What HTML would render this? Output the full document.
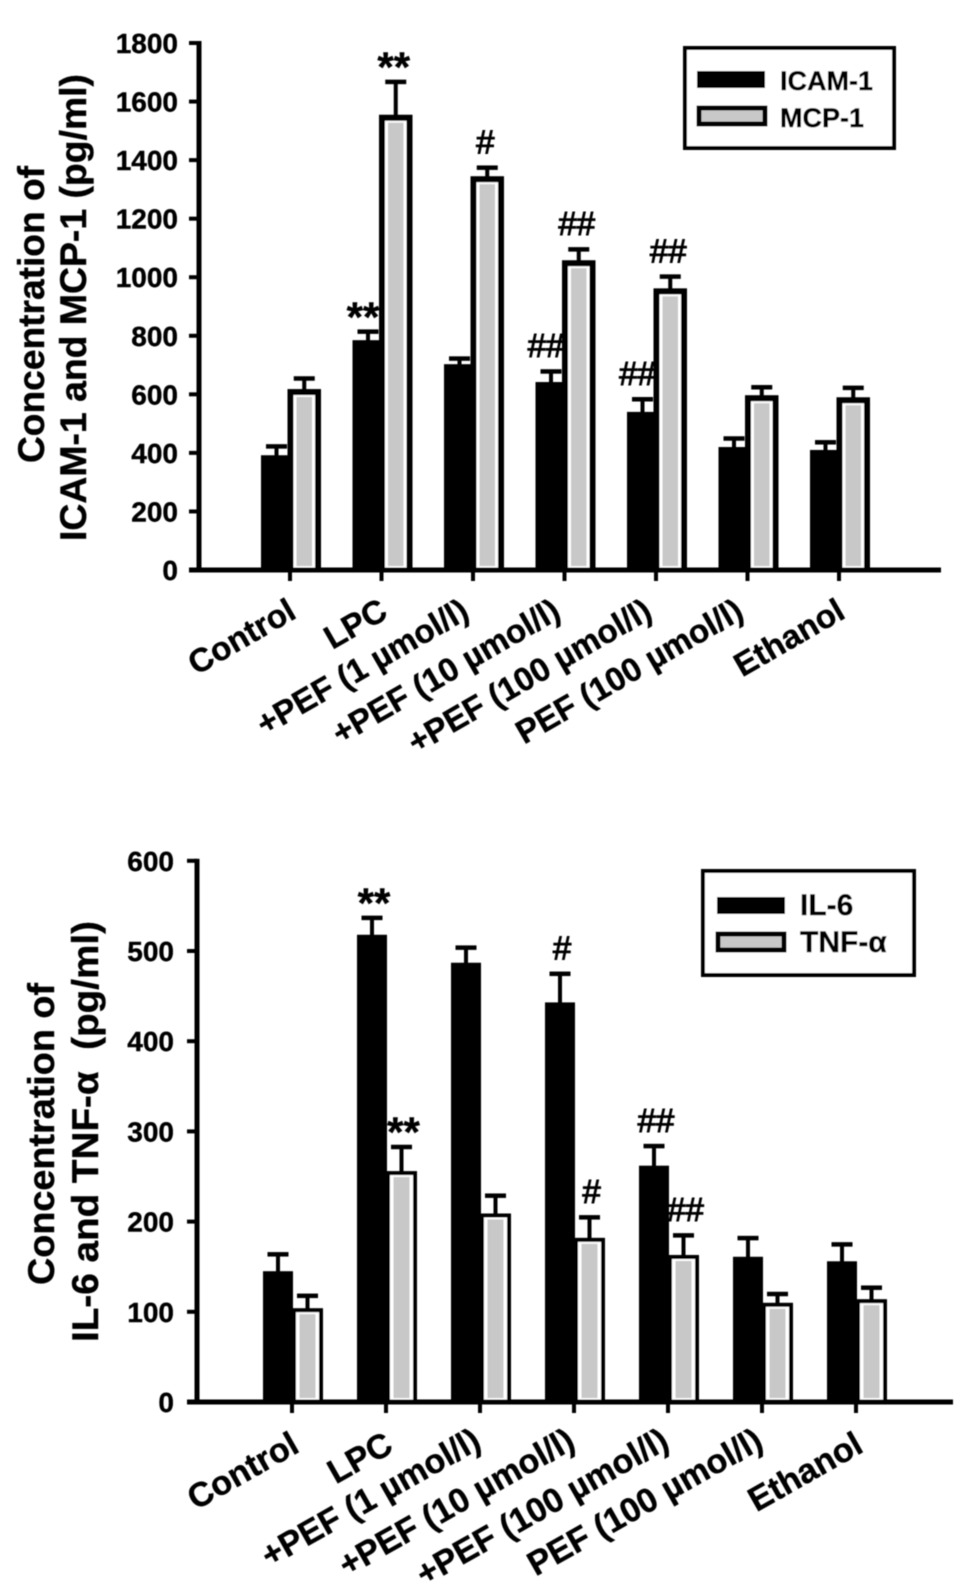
<!DOCTYPE html>
<html lang="en">
<head>
<meta charset="utf-8">
<title>ICAM-1, MCP-1, IL-6 and TNF-α concentrations</title>
<style>
html,body{margin:0;padding:0;background:#fff;}
svg{display:block;}
text{font-family:"Liberation Sans",Arial,sans-serif;fill:#000;stroke:#000;stroke-width:0.4px;}
.bold{font-weight:bold;}
.hash{stroke-width:1px;}
</style>
</head>
<body>
<svg id="figure" xmlns="http://www.w3.org/2000/svg" width="969" height="1593" viewBox="0 0 969 1593">
<defs><filter id="soft" x="-2%" y="-2%" width="104%" height="104%"><feGaussianBlur stdDeviation="0.55"/></filter></defs>
<rect x="0" y="0" width="969" height="1593" fill="#fff"/>
<g id="root" filter="url(#soft)">
  <g id="chart-top">
    <text class="bold" transform="translate(44,463) rotate(-90)" font-size="37" textLength="297" lengthAdjust="spacingAndGlyphs">Concentration of</text>
    <text class="bold" transform="translate(86,541) rotate(-90)" font-size="37" textLength="467" lengthAdjust="spacingAndGlyphs">ICAM-1 and MCP-1 (pg/ml)</text>
    <g>
      <rect x="685" y="48" width="209" height="100" fill="#fff" stroke="#000" stroke-width="4"/>
      <rect x="697" y="71" width="68" height="17" fill="#000"/>
      <rect x="699" y="108" width="66" height="16" fill="#c8c8c8" stroke="#000" stroke-width="5"/>
      <text class="bold" x="780" y="90" font-size="27">ICAM-1</text>
      <text class="bold" x="780" y="127" font-size="27">MCP-1</text>
    </g>
  </g>
  <g id="chart-bottom">
    <text class="bold" transform="translate(54,1285) rotate(-90)" font-size="37" textLength="302" lengthAdjust="spacingAndGlyphs">Concentration of</text>
    <text class="bold" transform="translate(98,1342) rotate(-90)" font-size="37" textLength="421" lengthAdjust="spacingAndGlyphs" xml:space="preserve">IL-6 and TNF-α  (pg/ml)</text>
    <g>
      <rect x="703" y="871" width="211" height="104" fill="#fff" stroke="#000" stroke-width="4"/>
      <rect x="717" y="897" width="68" height="17" fill="#000"/>
      <rect x="718" y="934" width="66" height="16" fill="#c8c8c8" stroke="#000" stroke-width="5"/>
      <text class="bold" x="800" y="915" font-size="30">IL-6</text>
      <text class="bold" x="800" y="952" font-size="30">TNF-α</text>
    </g>
  </g>
</g>
</svg>
<script>
// Shared categories
const categories = ["Control", "LPC", "+PEF (1 µmol/l)", "+PEF (10 µmol/l)", "+PEF (100 µmol/l)", "PEF (100 µmol/l)", "Ethanol"];

// Top chart data
const topTicks = [0, 200, 400, 600, 800, 1000, 1200, 1400, 1600, 1800];
const icamValues = [392, 785, 703, 642, 540, 420, 410];
const icamErrorTops = [423, 815, 723, 679, 584, 450, 437];
const icamMarks = ["", "**", "", "##", "##", "", ""];
const mcpValues = [618, 1555, 1345, 1058, 962, 597, 590];
const mcpErrorTops = [655, 1668, 1375, 1096, 1003, 625, 623];
const mcpMarks = ["", "**", "#", "##", "##", "", ""];

// Bottom chart data
const bottomTicks = [0, 100, 200, 300, 400, 500, 600];
const il6Values = [145, 518, 487, 443, 262, 161, 156];
const il6ErrorTops = [164, 537, 504, 475, 284, 182, 175];
const il6Marks = ["", "**", "", "#", "##", "", ""];
const tnfValues = [104, 256, 209, 182, 163, 110, 114];
const tnfErrorTops = [118, 283, 229, 205, 185, 120, 127];
const tnfMarks = ["", "**", "", "#", "##", "", ""];

const SVG_NS = "http://www.w3.org/2000/svg";

function make(parent, tag, props, content) {
  const node = document.createElementNS(SVG_NS, tag);
  for (const key in props) node.setAttribute(key, props[key]);
  if (content !== undefined) node.textContent = content;
  parent.appendChild(node);
  return node;
}

function drawChart(parent, cfg) {
  const yOf = v => cfg.y0 - (v / cfg.yMax) * (cfg.y0 - cfg.yTop);
  const xOf = i => cfg.x0 + i * cfg.step;

  cfg.categories.forEach((cat, i) => {
    const tx = xOf(i);
    const group = make(parent, "g", {});
    
    

    // black series: error bar then bar
    const yBlack = yOf(cfg.blackValues[i]);
    const yBlackCap = yOf(cfg.blackErrors[i]);
    const blackCenter = tx + (cfg.blackL + cfg.blackR) / 2;
    const blackStem = make(group, "rect", {x: blackCenter - 2, y: yBlackCap, width: 4, height: yBlack - yBlackCap + 1, fill: "#000"});
    
    
    const blackCap = make(group, "rect", {x: blackCenter - 10.5, y: yBlackCap - 2, width: 21, height: 4.5, fill: "#000"});
    
    
    const blackBar = make(group, "rect", {x: tx + cfg.blackL, y: yBlack, width: cfg.blackR - cfg.blackL, height: cfg.y0 - yBlack, fill: "#000"});
    
    

    // grey series: error bar, black outline, white halo, grey core
    const yGrey = yOf(cfg.greyValues[i]);
    const yGreyCap = yOf(cfg.greyErrors[i]);
    const gL = tx + cfg.greyL;
    const gR = tx + cfg.greyR;
    const greyCenter = (gL + gR) / 2;
    const greyStem = make(group, "rect", {x: greyCenter - 2, y: yGreyCap, width: 4, height: yGrey - yGreyCap + 1, fill: "#000"});
    
    
    const greyCap = make(group, "rect", {x: greyCenter - 10.5, y: yGreyCap - 2, width: 21, height: 4.5, fill: "#000"});
    
    
    const greyOuter = make(group, "rect", {x: gL, y: yGrey, width: gR - gL, height: cfg.y0 - yGrey, fill: "#000"});
    
    
    const o = cfg.outline;
    const greyHalo = make(group, "rect", {x: gL + o, y: yGrey + o, width: gR - gL - 2 * o, height: Math.max(0, cfg.y0 - yGrey - o - 2), fill: "#fff"});
    
    
    const h = o + cfg.halo;
    const greyCore = make(group, "rect", {x: gL + h, y: yGrey + o + 2, width: gR - gL - 2 * h, height: Math.max(0, cfg.y0 - yGrey - o - 6), fill: "#c8c8c8"});
    
    

    // significance marks
    [[cfg.blackMarks[i], blackCenter + cfg.blackShift, yBlackCap], [cfg.greyMarks[i], greyCenter + cfg.greyShift, yGreyCap]].forEach(([mark, mx, capY]) => {
      if (!mark) return;
      const star = mark.charAt(0) === "*";
      const label = make(group, "text", {
        x: mx,
        y: star ? capY : capY - 14,
        "text-anchor": "middle",
        "font-size": star ? 42 : 33,
        "font-weight": star ? "bold" : "normal",
        "class": star ? "" : "hash"
      }, mark);
      
      
    });

    // x tick
    const xTick = make(parent, "rect", {x: tx - 2, y: cfg.y0, width: 4, height: 11, fill: "#000"});
    
    

    // category label: long dose labels end slightly left of / above the short ones
    const isDose = cat.charAt(cat.length - 1) === ")";
    const lx = tx + cfg.catDx + (isDose ? cfg.doseDx : 0);
    const ly = cfg.y0 + cfg.catDy + (isDose ? cfg.doseDy : 0);
    const label = make(parent, "text", {
      "text-anchor": "end",
      "font-size": cfg.catSize,
      "font-weight": "bold",
      transform: "translate(" + lx + "," + ly + ") rotate(" + cfg.catAngle + ")"
    }, cat);
    
    
  });

  // axes
  const yAxis = make(parent, "rect", {x: cfg.axisX - 2.5, y: cfg.yTop - 2, width: 5, height: cfg.y0 - cfg.yTop + 4, fill: "#000"});
  
  
  const xAxis = make(parent, "rect", {x: cfg.axisX - 10, y: cfg.y0 - 2.5, width: cfg.axisEnd - cfg.axisX + 10, height: 5, fill: "#000"});
  
  

  cfg.ticks.forEach(v => {
    const y = yOf(v);
    const tick = make(parent, "rect", {x: cfg.axisX - 10, y: y - 2, width: 10, height: 4, fill: "#000"});
    
    
    const label = make(parent, "text", {x: cfg.tickRight, y: y + 10, "text-anchor": "end", "font-size": 28, "font-weight": "bold"}, String(v));
    
    
  });
}

drawChart(document.getElementById("chart-top"), {
  categories: categories, ticks: topTicks, yMax: 1800, y0: 570, yTop: 43,
  x0: 290, step: 91.5, axisX: 199, axisEnd: 941, tickRight: 178,
  blackValues: icamValues, blackErrors: icamErrorTops, blackMarks: icamMarks,
  greyValues: mcpValues, greyErrors: mcpErrorTops, greyMarks: mcpMarks,
  blackL: -29, blackR: 2, greyL: -2.5, greyR: 31, outline: 6, halo: 3,
  blackShift: -5, greyShift: -2, catSize: 33, catDx: 8, catDy: 47, catAngle: -30,
  doseDx: -10, doseDy: 0
});

drawChart(document.getElementById("chart-bottom"), {
  categories: categories, ticks: bottomTicks, yMax: 600, y0: 1402, yTop: 860.8,
  x0: 292, step: 94, axisX: 197, axisEnd: 953, tickRight: 174,
  blackValues: il6Values, blackErrors: il6ErrorTops, blackMarks: il6Marks,
  greyValues: tnfValues, greyErrors: tnfErrorTops, greyMarks: tnfMarks,
  blackL: -29, blackR: 1, greyL: 0, greyR: 31, outline: 4, halo: 3.5,
  blackShift: 2, greyShift: 2, catSize: 34, catDx: 9, catDy: 49, catAngle: -29.5,
  doseDx: -6, doseDy: -4
});
</script>
</body>
</html>
